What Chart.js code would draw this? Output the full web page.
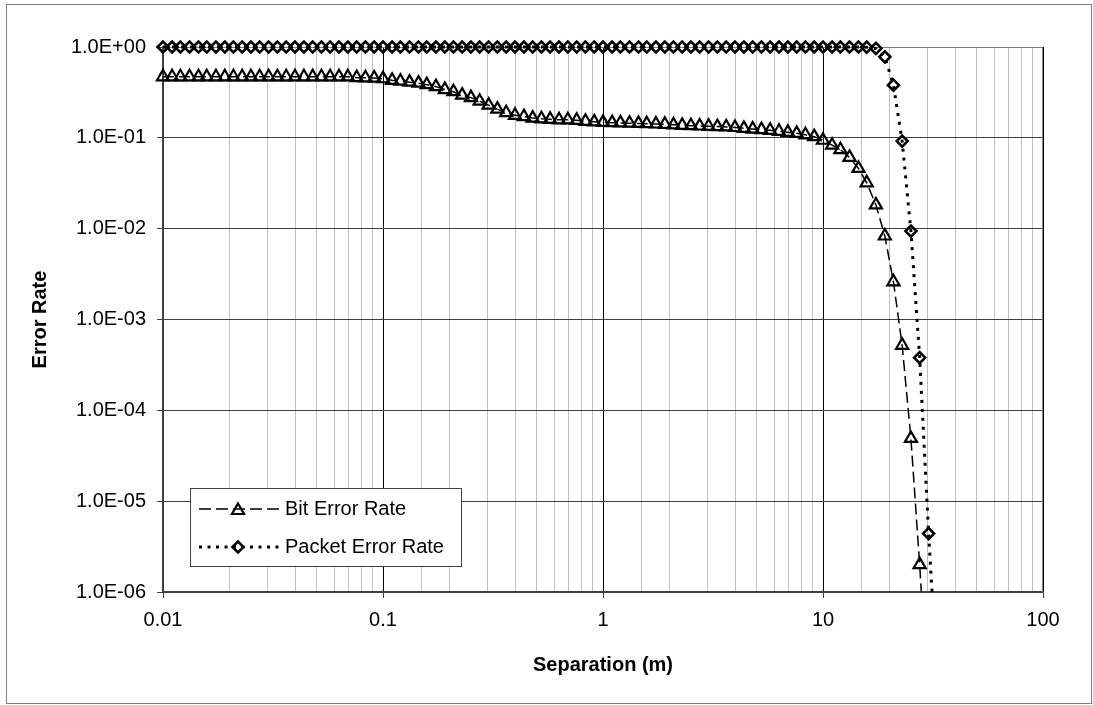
<!DOCTYPE html>
<html>
<head>
<meta charset="utf-8">
<title>Error Rate vs Separation</title>
<script src="https://cdn.jsdelivr.net/npm/chart.js"></script>
<style>
  body { margin: 0; background: #fff; }
  canvas { display: block; }
</style>
</head>
<body>
<canvas id="myChart" width="1093" height="705"></canvas>
<script>
// separation in metres, one point every 1/25 decade
const separation = [
  0.01, 0.011, 0.012, 0.0132, 0.0145, 0.0158, 0.0174, 0.0191, 0.0209, 0.0229, 0.0251, 0.0275, 0.0302,
  0.0331, 0.0363, 0.0398, 0.0437, 0.0479, 0.0525, 0.0575, 0.0631, 0.0692, 0.0759, 0.0832, 0.0912,
  0.1, 0.11, 0.12, 0.132, 0.145, 0.158, 0.174, 0.191, 0.209, 0.229, 0.251, 0.275, 0.302,
  0.331, 0.363, 0.398, 0.437, 0.479, 0.525, 0.575, 0.631, 0.692, 0.759, 0.832, 0.912,
  1, 1.1, 1.2, 1.32, 1.45, 1.58, 1.74, 1.91, 2.09, 2.29, 2.51, 2.75, 3.02,
  3.31, 3.63, 3.98, 4.37, 4.79, 5.25, 5.75, 6.31, 6.92, 7.59, 8.32, 9.12,
  10, 11, 12, 13.2, 14.5, 15.8, 17.4, 19.1, 20.9, 22.9, 25.1, 27.5, 30.2, 33.1
];

const bitErrorRate = [
  0.47, 0.47, 0.47, 0.47, 0.47, 0.47, 0.47, 0.47, 0.47, 0.47, 0.47, 0.47, 0.47,
  0.47, 0.47, 0.47, 0.47, 0.47, 0.47, 0.47, 0.47, 0.47, 0.46, 0.458, 0.455,
  0.447, 0.43, 0.42, 0.41, 0.40, 0.385, 0.366, 0.34, 0.322, 0.295, 0.277, 0.253, 0.229,
  0.207, 0.189, 0.177, 0.171, 0.165, 0.162, 0.16, 0.158, 0.158, 0.156, 0.152, 0.15,
  0.148, 0.147, 0.146, 0.145, 0.144, 0.143, 0.142, 0.141, 0.139, 0.137, 0.136, 0.135, 0.134,
  0.133, 0.132, 0.13, 0.127, 0.125, 0.123, 0.121, 0.118, 0.115, 0.112, 0.108, 0.103,
  0.094, 0.083, 0.074, 0.061, 0.046, 0.032, 0.0183, 0.0083, 0.0026, 5.2e-4, 4.9e-5, 2.0e-6, 5e-8, null
];

const packetErrorRate = [
  1, 1, 1, 1, 1, 1, 1, 1, 1, 1, 1, 1, 1,
  1, 1, 1, 1, 1, 1, 1, 1, 1, 1, 1, 1,
  1, 1, 1, 1, 1, 1, 1, 1, 1, 1, 1, 1, 1,
  1, 1, 1, 1, 1, 1, 1, 1, 1, 1, 1, 1,
  1, 1, 1, 1, 1, 1, 1, 1, 1, 1, 1, 1, 1,
  1, 1, 1, 1, 1, 1, 1, 1, 1, 1, 1, 1,
  1, 1, 1, 1, 1, 0.995, 0.965, 0.78, 0.38, 0.092, 0.0094, 3.8e-4, 4.4e-6, 1e-7
];

const seriesNames = ['Bit Error Rate', 'Packet Error Rate'];

const FONT = '"Liberation Sans", Arial, sans-serif';
Chart.defaults.font.family = FONT;
Chart.defaults.color = '#000';

const isDecade = v => Math.abs(Math.log10(v) - Math.round(Math.log10(v))) < 1e-9;
const sci = v => {
  const e = Math.round(Math.log10(v));
  return '1.0E' + (e < 0 ? '-' : '+') + String(Math.abs(e)).padStart(2, '0');
};

const pts = arr => separation.map((x, i) => ({ x: x, y: arr[i] }));

function marker(ctx, style, x, y, r) {
  ctx.beginPath();
  if (style === 'triangle') {
    ctx.moveTo(x, y - r);
    ctx.lineTo(x + 0.866 * r, y + r / 2);
    ctx.lineTo(x - 0.866 * r, y + r / 2);
  } else {
    ctx.moveTo(x - r, y);
    ctx.lineTo(x, y - r);
    ctx.lineTo(x + r, y);
    ctx.lineTo(x, y + r);
  }
  ctx.closePath();
  ctx.stroke();
}

// white page, grey outer frame, grey top/right plot border
const frame = {
  id: 'frame',
  beforeDraw(chart) {
    const c = chart.ctx;
    c.save();
    c.fillStyle = '#fff';
    c.fillRect(0, 0, chart.width, chart.height);
    c.strokeStyle = '#808080';
    c.lineWidth = 1;
    c.strokeRect(6.5, 4.5, 1085, 699);
    c.restore();
  },
  beforeDatasetsDraw(chart) {
    const a = chart.chartArea, c = chart.ctx;
    c.save();
    c.strokeStyle = '#808080';
    c.lineWidth = 1;
    c.beginPath();
    c.moveTo(a.left, a.top + 0.5);
    c.lineTo(a.right - 0.5, a.top + 0.5);
    c.lineTo(a.right - 0.5, a.bottom);
    c.stroke();
    c.restore();
  }
};

// legend box inside the plot, lower left
const legendBox = {
  id: 'legendBox',
  afterDraw(chart) {
    const c = chart.ctx;
    c.save();
    c.fillStyle = '#fff';
    c.fillRect(191, 489, 271, 78);
    c.strokeStyle = '#404040';
    c.lineWidth = 1;
    c.strokeRect(190.5, 488.5, 271, 78);
    chart.data.datasets.forEach((ds, i) => {
      const y = 509 + i * 38;
      c.strokeStyle = '#000';
      c.lineWidth = ds.borderWidth;
      c.setLineDash(ds.legendDash);
      c.beginPath();
      c.moveTo(199, y);
      c.lineTo(279, y);
      c.stroke();
      c.setLineDash([]);
      c.lineWidth = ds.pointBorderWidth;
      marker(c, ds.pointStyle, 238, ds.pointStyle === 'triangle' ? y + 1.5 : y, ds.pointRadius);
      c.fillStyle = '#000';
      c.font = '20px ' + FONT;
      c.textBaseline = 'middle';
      c.textAlign = 'left';
      c.fillText(ds.label, 285, y);
    });
    c.restore();
  }
};

const ctx = document.getElementById('myChart');

const myChart = new Chart(ctx, {
  type: 'line',
  data: {
    datasets: [
      {
        label: seriesNames[0],
        data: pts(bitErrorRate),
        borderColor: '#000',
        borderWidth: 1.5,
        borderDash: [11, 5],
        legendDash: [12, 5],
        pointStyle: 'triangle',
        pointRadius: 7,
        pointBorderWidth: 2.2,
        pointBorderColor: '#000',
        pointBackgroundColor: 'rgba(0,0,0,0)',
        fill: false,
        tension: 0,
        clip: { left: 12, top: 12, right: 12, bottom: 0 }
      },
      {
        label: seriesNames[1],
        data: pts(packetErrorRate),
        borderColor: '#000',
        borderWidth: 3,
        borderDash: [3, 6],
        legendDash: [3, 5.5],
        pointStyle: 'rectRot',
        pointRadius: 5.5,
        pointBorderWidth: 2.6,
        pointBorderColor: '#000',
        pointBackgroundColor: 'rgba(0,0,0,0)',
        fill: false,
        tension: 0,
        clip: { left: 12, top: 12, right: 12, bottom: 0 }
      }
    ]
  },
  options: {
    responsive: false,
    animation: false,
    devicePixelRatio: 1,
    layout: { padding: { left: 0, right: 50, top: 47, bottom: 0 } },
    plugins: {
      legend: { display: false },
      tooltip: { enabled: false }
    },
    scales: {
      x: {
        type: 'logarithmic',
        min: 0.01,
        max: 100,
        afterFit: s => { s.height = 113; },
        ticks: {
          autoSkip: false,
          maxRotation: 0,
          padding: 10,
          font: { size: 20 },
          color: '#000',
          callback: v => isDecade(v) ? String(Math.pow(10, Math.round(Math.log10(v)))) : ''
        },
        grid: {
          color: c => isDecade(c.tick.value) ? '#000' : '#c0c0c0',
          tickColor: c => isDecade(c.tick.value) ? '#404040' : 'rgba(0,0,0,0)',
          tickLength: 6,
          lineWidth: 1
        },
        border: { color: '#404040', width: 1.5 },
        title: {
          display: true,
          text: 'Separation (m)',
          color: '#000',
          font: { size: 20, weight: 'bold' },
          padding: { top: 0, bottom: 28 }
        }
      },
      y: {
        type: 'logarithmic',
        min: 1e-6,
        max: 1,
        afterFit: s => { s.width = 163; },
        ticks: {
          autoSkip: false,
          padding: 11,
          font: { size: 20 },
          color: '#000',
          callback: v => isDecade(v) ? sci(v) : null
        },
        grid: {
          color: '#404040',
          tickColor: '#404040',
          tickLength: 6,
          lineWidth: 1
        },
        border: { color: '#404040', width: 2 },
        title: {
          display: true,
          text: 'Error Rate',
          color: '#000',
          font: { size: 20, weight: 'bold' },
          padding: { top: 28, bottom: 0 }
        }
      }
    }
  },
  plugins: [frame, legendBox]
});
</script>
</body>
</html>
